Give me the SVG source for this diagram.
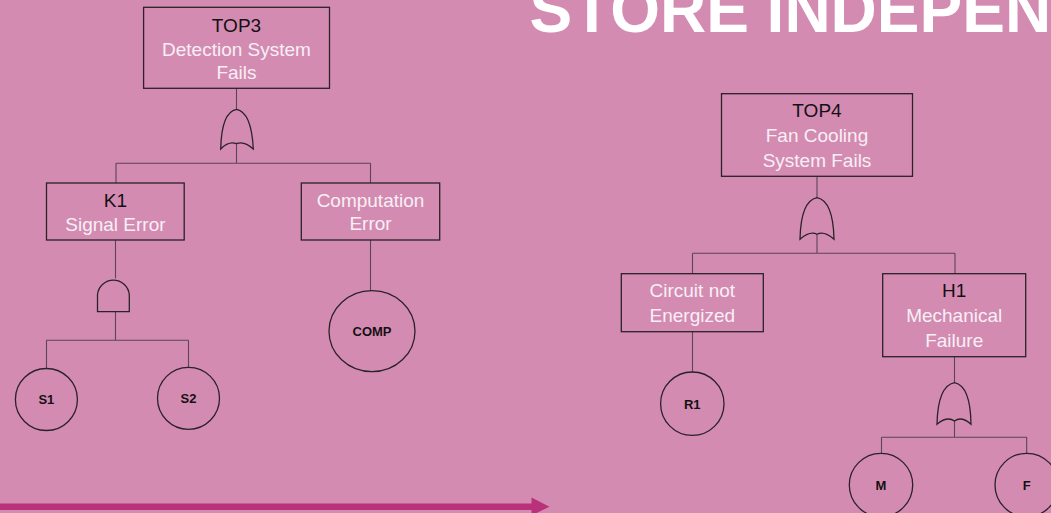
<svg xmlns="http://www.w3.org/2000/svg" width="1051" height="513" viewBox="0 0 1051 513">
  <defs>
    <style>
      .box { fill: none; stroke: #2a2228; stroke-width: 1.3; }
      .gate { fill: none; stroke: #2a2228; stroke-width: 1.3; }
      .evt { fill: none; stroke: #2a2228; stroke-width: 1.3; }
      .wire { fill: none; stroke: #5a4652; stroke-width: 1.1; }
      .lbl { font-family: "Liberation Sans", Arial, sans-serif; font-size: 19px; text-anchor: middle; }
      .id { fill: #141014; }
      .desc { fill: #f7eff5; }
      .basic { font-family: "Liberation Sans", Arial, sans-serif; font-size: 13px; font-weight: bold; fill: #141014; text-anchor: middle; dominant-baseline: central; }
      .title { font-family: "Liberation Sans", Arial, sans-serif; font-size: 64px; font-weight: bold; fill: #ffffff; }
    </style>
  </defs>

  <!-- slide background -->
  <rect x="0" y="0" width="1051" height="513" fill="#D48BB2"/>

  <!-- slide heading, partly outside the frame -->
  <text class="title" x="529.5" y="32.3">STORE INDEPEN</text>

  <!-- bottom progress arrow -->
  <g id="progress-arrow">
    <rect x="0" y="503.5" width="533" height="6.5" fill="#B9307B"/>
    <polygon points="531.5,497.5 549.5,506.7 531.5,515.5" fill="#B9307B"/>
  </g>

  <!-- connectors -->
  <g id="connectors">
    <!-- tree 1 -->
    <path class="wire" d="M236.5,88.3 V109"/>
    <path class="wire" d="M236.5,144 V163.3 M116,163.3 H370.5 M116,163.3 V183 M370.5,163.3 V183"/>
    <path class="wire" d="M115.5,240 V278.3"/>
    <path class="wire" d="M115.5,311.7 V340.3 M46.5,340.3 H188.5 M46.5,340.3 V368.3 M188.5,340.3 V367.3"/>
    <path class="wire" d="M370.5,240 V290.7"/>
    <!-- tree 2 -->
    <path class="wire" d="M817,176.3 V197.7"/>
    <path class="wire" d="M817,234.3 V253.3 M692.5,253.3 H955 M692.5,253.3 V273.7 M955,253.3 V273.7"/>
    <path class="wire" d="M692.5,331.7 V372.3"/>
    <path class="wire" d="M954.5,356.7 V382.7"/>
    <path class="wire" d="M954.5,421 V437.3 M881.5,437.3 H1026.7 M881.5,437.3 V453.3 M1026.7,437.3 V453.3"/>
  </g>

  <!-- ===== Tree 1 ===== -->
  <g id="TOP3">
    <rect class="box" x="143.6" y="7.3" width="185.9" height="81"/>
    <text class="lbl id" x="236.5" y="31.8">TOP3</text>
    <text class="lbl desc" x="236.5" y="55.6">Detection System</text>
    <text class="lbl desc" x="236.5" y="79">Fails</text>
  </g>

  <g id="G-TOP3-or">
    <path class="gate" d="M220.7,149 Q221.5,112 236.5,109.3 Q251.5,112 253.3,149 Q244,140.5 236.5,143.7 Q229,140.5 220.7,149 Z"/>
  </g>

  <g id="K1">
    <rect class="box" x="46.5" y="183" width="137.7" height="57"/>
    <text class="lbl id" x="115.4" y="206.8">K1</text>
    <text class="lbl desc" x="115.4" y="230.6">Signal Error</text>
  </g>

  <g id="CompErr">
    <rect class="box" x="301.3" y="183" width="138.4" height="57"/>
    <text class="lbl desc" x="370.5" y="206.6">Computation</text>
    <text class="lbl desc" x="370.5" y="230.4">Error</text>
  </g>

  <g id="G-K1-and">
    <path class="gate" d="M97.5,311.7 V294.5 A16,16.2 0 0 1 129.3,294.5 V311.7 Z"/>
  </g>

  <g id="S1">
    <circle class="evt" cx="46.4" cy="399.5" r="31"/>
    <text class="basic" x="46.4" y="399.8">S1</text>
  </g>

  <g id="S2">
    <circle class="evt" cx="188.5" cy="398.3" r="31"/>
    <text class="basic" x="188.5" y="398.6">S2</text>
  </g>

  <g id="COMP">
    <ellipse class="evt" cx="372" cy="331.2" rx="43" ry="40.5"/>
    <text class="basic" x="372" y="331.6">COMP</text>
  </g>

  <!-- ===== Tree 2 ===== -->
  <g id="TOP4">
    <rect class="box" x="721.5" y="93.7" width="191" height="82.6"/>
    <text class="lbl id" x="817" y="117.3">TOP4</text>
    <text class="lbl desc" x="817" y="142.3">Fan Cooling</text>
    <text class="lbl desc" x="817" y="166.7">System Fails</text>
  </g>

  <g id="G-TOP4-or">
    <path class="gate" d="M800,239.3 Q800.8,201 817,197.7 Q833.2,201 834,239.3 Q824,230.5 817,234.3 Q810,230.5 800,239.3 Z"/>
  </g>

  <g id="CircuitNE">
    <rect class="box" x="621.3" y="273.7" width="142" height="58"/>
    <text class="lbl desc" x="692.3" y="297.3">Circuit not</text>
    <text class="lbl desc" x="692.3" y="321.8">Energized</text>
  </g>

  <g id="H1">
    <rect class="box" x="882.7" y="273.7" width="143" height="83"/>
    <text class="lbl id" x="954.2" y="297.3">H1</text>
    <text class="lbl desc" x="954.2" y="322">Mechanical</text>
    <text class="lbl desc" x="954.2" y="346.5">Failure</text>
  </g>

  <g id="G-H1-or">
    <path class="gate" d="M937,424.3 Q937.8,386 954.5,382.7 Q970.5,386 971,424.3 Q961.5,415.8 954.5,421 Q947,415.8 937,424.3 Z"/>
  </g>

  <g id="R1">
    <circle class="evt" cx="692.3" cy="403.7" r="31.7"/>
    <text class="basic" x="692.3" y="404">R1</text>
  </g>

  <g id="M">
    <circle class="evt" cx="881" cy="485" r="31.7"/>
    <text class="basic" x="881" y="485.6">M</text>
  </g>

  <g id="F">
    <circle class="evt" cx="1026.7" cy="485" r="31.7"/>
    <text class="basic" x="1026.7" y="485.6">F</text>
  </g>
</svg>
